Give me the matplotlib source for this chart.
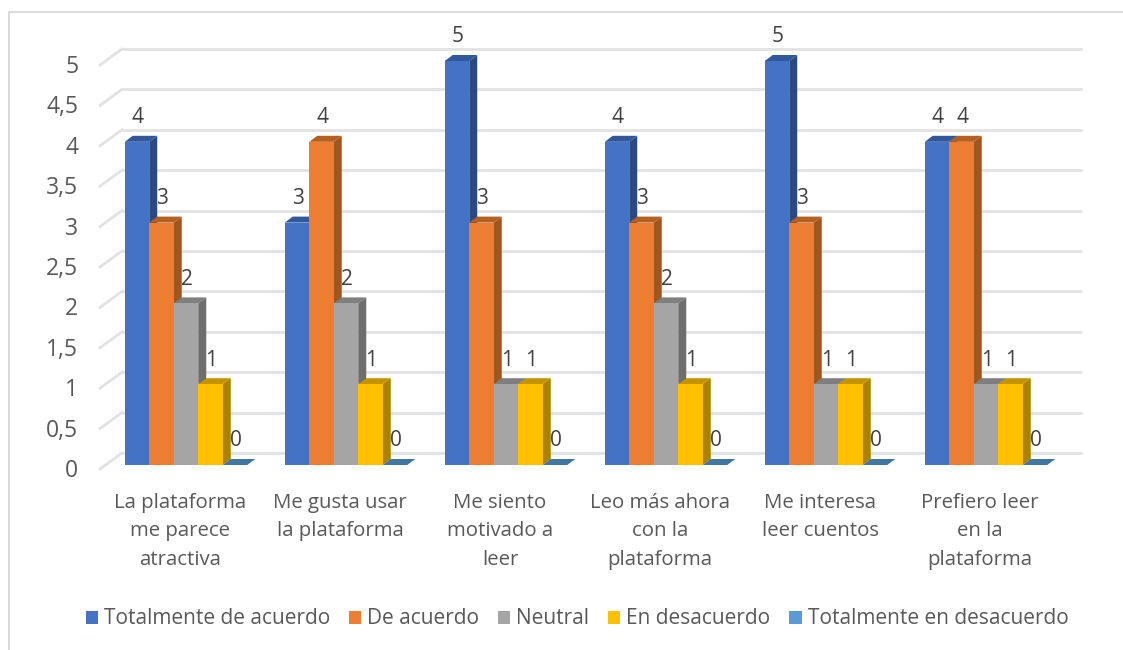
import matplotlib
matplotlib.use("Agg")
import matplotlib.pyplot as plt
from matplotlib.patches import Polygon, Patch
from matplotlib.lines import Line2D
from matplotlib.transforms import ScaledTranslation

plt.rcParams['font.family'] = ['Open Sans', 'DejaVu Sans']

categories = ["La plataforma\nme parece\natractiva", "Me gusta usar\nla plataforma",
              "Me siento\nmotivado a\nleer", "Leo más ahora\ncon la\nplataforma",
              "Me interesa\nleer cuentos", "Prefiero leer\nen la\nplataforma"]
series_names = ["Totalmente de acuerdo", "De acuerdo", "Neutral", "En desacuerdo", "Totalmente en desacuerdo"]
totalmente_de_acuerdo = [4, 3, 5, 4, 5, 4]
de_acuerdo = [3, 4, 3, 3, 3, 4]
neutral = [2, 2, 1, 2, 1, 1]
en_desacuerdo = [1, 1, 1, 1, 1, 1]
totalmente_en_desacuerdo = [0, 0, 0, 0, 0, 0]
series = [totalmente_de_acuerdo, de_acuerdo, neutral, en_desacuerdo, totalmente_en_desacuerdo]
y_ticks = [0, 0.5, 1, 1.5, 2, 2.5, 3, 3.5, 4, 4.5, 5]
y_labels = ["0", "0,5", "1", "1,5", "2", "2,5", "3", "3,5", "4", "4,5", "5"]

front = ["#4472C4", "#ED7D31", "#A5A5A5", "#FFC000", "#5B9BD5"]
side = ["#2C4A80", "#A0561F", "#6E6E6E", "#AB8100", "#3D6F9E"]
top = ["#32589C", "#B5601F", "#7F7F7F", "#C49400", "#41779F"]
text_dark = "#404040"
text_grey = "#595959"
grid_c = "#E2E2E2"

W, H = 1123, 650
fig = plt.figure(figsize=(W / 100, H / 100), dpi=100, facecolor="white")
L, R, B, T = 106, 1066, 465, 61
ax = fig.add_axes([L / W, 1 - B / H, (R - L) / W, (B - T) / H])
ax.set_xlim(0, 6)
ax.set_ylim(0, 5)
ax.patch.set_visible(False)
for s in ax.spines.values():
    s.set_visible(False)

px_x = 6 / (R - L)
px_y = 5 / (B - T)
DX, DY = 8 * px_x, 6 * px_y
GROUP = 122.5 * px_x
BW = GROUP / 5
GAP = (1 - GROUP) / 2

# Chart frame
fig.add_artist(Line2D([8.5 / W, 8.5 / W], [0, 1 - 12 / H], color="#D9D9D9", lw=1.4))
fig.add_artist(Line2D([8.5 / W, 1], [1 - 12 / H, 1 - 12 / H], color="#D9D9D9", lw=1.4))

# Back wall gridlines and the slanted side lines
for v in y_ticks:
    ax.plot([16 * px_x, (R - L + 16) * px_x], [v + 12 * px_y] * 2, color=grid_c, lw=2.0,
            clip_on=False, zorder=1, solid_capstyle="butt")
    ax.plot([-6 * px_x, 16 * px_x], [v - 4 * px_y, v + 12 * px_y], color=grid_c, lw=2.0,
            clip_on=False, zorder=1)

# Bars
z = 2
for c in range(len(categories)):
    for s_i, vals in enumerate(series):
        v = vals[c]
        x0 = c + GAP + s_i * BW
        x1 = x0 + BW
        ax.bar(x0, v, width=BW, align="edge", color=front[s_i], zorder=z + 0.2, clip_on=False)
        ax.add_patch(Polygon([(x1, 0), (x1 + DX, DY), (x1 + DX, v + DY), (x1, v)], closed=True,
                             fc=side[s_i], ec="none", zorder=z, clip_on=False))
        ax.add_patch(Polygon([(x0, v), (x0 + DX, v + DY), (x1 + DX, v + DY), (x1, v)], closed=True,
                             fc=top[s_i], ec="none", zorder=z + 0.1, clip_on=False))
        ax.annotate(str(v), xy=(x0 + BW / 2, v), xytext=(0.7, 24 / 100 * 72), textcoords="offset points",
                    ha="center", va="center", fontsize=15, color=text_dark, zorder=50,
                    annotation_clip=False)
        z += 1

ax.set_yticks(y_ticks, y_labels)
ax.tick_params(axis="y", length=0, pad=20, labelsize=16.5, labelcolor=text_grey)
ax.set_xticks([i + 0.5 for i in range(len(categories))], categories)
ax.tick_params(axis="x", length=0, pad=20, labelsize=14.7, labelcolor=text_grey)
shift = ScaledTranslation(-6 / 100, 0, fig.dpi_scale_trans)
for lab in ax.get_xticklabels():
    lab.set_linespacing(1.58)
    lab.set_transform(lab.get_transform() + shift)
shift_y = ScaledTranslation(0, -3 / 100, fig.dpi_scale_trans)
for lab in ax.get_yticklabels():
    lab.set_transform(lab.get_transform() + shift_y)

handles = [Patch(fc=front[i], ec="none", label=series_names[i]) for i in range(5)]
fig.legend(handles=handles, loc="center", bbox_to_anchor=(577 / W, 1 - 619 / H), ncol=5, frameon=False,
           fontsize=15, labelcolor=text_grey, handlelength=0.58, handleheight=0.58,
           handletextpad=0.29, columnspacing=0.91, borderpad=0)

fig.savefig("out.png", dpi=100, facecolor="white")
